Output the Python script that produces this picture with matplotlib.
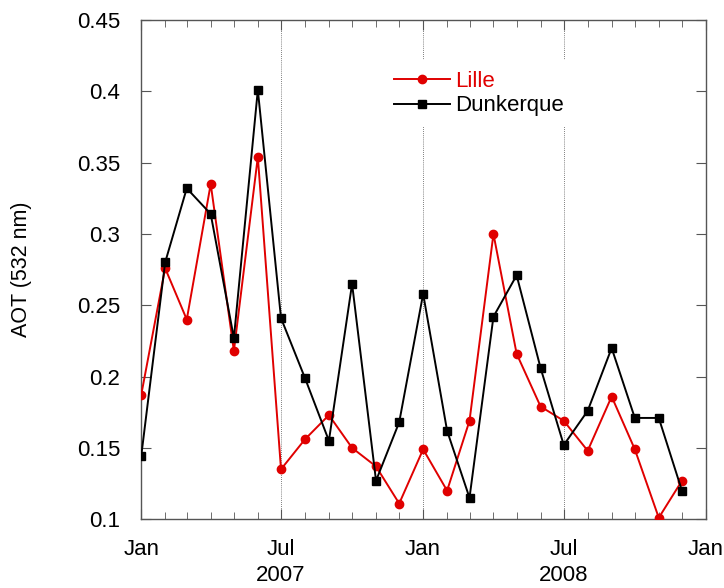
import numpy as np
import matplotlib.pyplot as plt
import matplotlib.dates as mdates
from matplotlib.transforms import blended_transform_factory

plt.rcParams['font.family'] = ['Liberation Sans', 'DejaVu Sans']

# monthly means, Jan 2007 - Dec 2008
months = np.arange('2007-01', '2009-01', dtype='datetime64[M]').astype('datetime64[D]')
lille = [0.187, 0.276, 0.240, 0.335, 0.218, 0.354, 0.135, 0.156, 0.173, 0.150, 0.137, 0.111,
         0.149, 0.120, 0.169, 0.300, 0.216, 0.179, 0.169, 0.148, 0.186, 0.149, 0.101, 0.127]
dunkerque = [0.144, 0.280, 0.332, 0.314, 0.227, 0.401, 0.241, 0.199, 0.155, 0.265, 0.127, 0.168,
             0.258, 0.162, 0.115, 0.242, 0.271, 0.206, 0.152, 0.176, 0.220, 0.171, 0.171, 0.120]
years = ['2007', '2008']

fig = plt.figure(figsize=(7.24, 5.88), dpi=100)
ax = fig.add_axes([0.195, 0.117, 0.78, 0.849])

for d in ['2007-07-01', '2008-01-01', '2008-07-01']:
    ax.axvline(np.datetime64(d), color='#555555', ls=(0, (1, 1.5)), lw=0.6, zorder=0)

ax.plot(months, lille, color='#e00000', marker='o', ms=6, lw=1.4, label='Lille', zorder=3)
ax.plot(months, dunkerque, color='black', marker='s', ms=5.5, lw=1.4, label='Dunkerque', zorder=3)

ax.set_xlim(np.datetime64('2007-01-01'), np.datetime64('2009-01-01'))
ax.set_ylim(0.1, 0.45)
ax.set_yticks(np.arange(0.1, 0.451, 0.05))
ax.set_yticklabels(['0.1', '0.15', '0.2', '0.25', '0.3', '0.35', '0.4', '0.45'])

ax.xaxis.set_major_locator(mdates.MonthLocator(bymonth=[1, 7]))
ax.xaxis.set_major_formatter(mdates.DateFormatter('%b'))
ax.xaxis.set_minor_locator(mdates.MonthLocator())

ax.tick_params(which='both', direction='in', top=True, right=True, labelsize=16,
               color='#555555')
ax.tick_params(which='major', length=7)
ax.tick_params(which='minor', length=5)
ax.tick_params(axis='x', pad=14)
ax.tick_params(axis='y', pad=15)
for s in ax.spines.values():
    s.set_color('#555555')
    s.set_linewidth(1.0)

ax.set_ylabel('AOT (532 nm)', fontsize=15.5)
ax.yaxis.set_label_coords(-0.193, 0.5)

tr = blended_transform_factory(ax.transData, ax.transAxes)
for y in years:
    ax.text(np.datetime64(y + '-07-01'), -0.113, y, transform=tr, ha='center', va='center',
            fontsize=16)

leg = ax.legend(loc='upper left', bbox_to_anchor=(0.428, 0.92), frameon=True, fontsize=16,
                labelcolor='linecolor', handlelength=2.5, handletextpad=0.27,
                borderpad=0.5, labelspacing=0.15, borderaxespad=0, numpoints=1)
leg.get_frame().set_edgecolor('none')
leg.get_frame().set_facecolor('white')
leg.get_frame().set_alpha(1.0)
leg.get_frame().set_boxstyle('square', pad=0)

fig.savefig('out.png', dpi=100)
